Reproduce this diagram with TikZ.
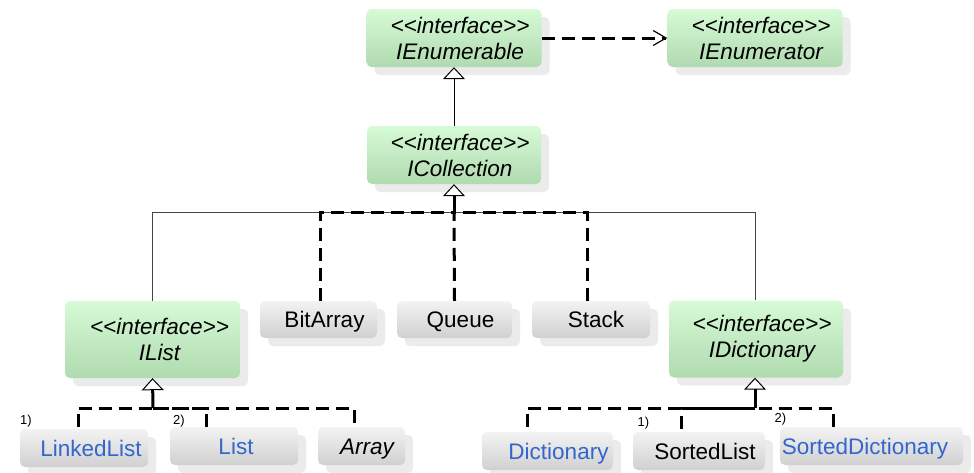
\documentclass[tikz,border=0pt]{standalone}
\usepackage{fontspec}
\setmainfont{Liberation Sans}
\usetikzlibrary{arrows.meta,shadows}
\definecolor{gtop}{HTML}{D6FBD6}
\definecolor{gbot}{HTML}{B0DAB0}
\definecolor{ytop}{HTML}{F3F3F3}
\definecolor{ybot}{HTML}{D0D0D0}
\definecolor{shad}{HTML}{EBEBEB}
\definecolor{cls}{HTML}{3366CC}
\definecolor{thinline}{HTML}{454545}
\begin{document}
\begin{tikzpicture}[x=1pt,y=-1pt,
  box/.style={rounded corners=5pt, inner sep=0pt, align=center,
    font=\fontsize{22.5}{26}\selectfont,
    general shadow={shadow xshift=8pt, shadow yshift=-8pt, fill=shad}},
  iface/.style={box, top color=gtop, bottom color=gbot, minimum width=175pt, font=\fontsize{22.5}{26}\selectfont\itshape},
  gbox/.style={box, top color=ytop, bottom color=ybot, minimum height=38pt, text height=17pt, text depth=1pt},
  num/.style={inner sep=0pt, font=\fontsize{13}{13}\selectfont},
  gen/.style={draw=thinline, line width=1pt},
  real/.style={draw=black, line width=3pt, dash pattern=on 13pt off 7pt},
  stem/.style={draw=black, line width=3pt},
  tri/.style={-{Triangle[length=12pt, width=22pt, line width=1pt, fill=white]}},
]
\useasboundingbox (0,0) rectangle (974,472);

% interfaces
\node[iface, minimum height=58pt] (ienum)  at (454,38)  {\hspace*{12pt}<{}<interface>{}>\\\hspace*{12pt}IEnumerable};
\node[iface, minimum height=58pt] (ienumr) at (755,38)  {\hspace*{12pt}<{}<interface>{}>\\\hspace*{12pt}IEnumerator};
\node[iface, minimum height=58pt, minimum width=174pt] (icoll) at (454,155) {\hspace*{12pt}<{}<interface>{}>\\\hspace*{12pt}ICollection};
\node[iface, minimum height=77pt] (ilist) at (152.5,339.5) {\hspace*{14pt}<{}<interface>{}>\\\hspace*{14pt}IList};
\node[iface, minimum height=77pt, minimum width=174pt] (idict) at (756,339) {\hspace*{12pt}<{}<interface>{}>\\\hspace*{12pt}IDictionary};

% classes
\node[gbox, minimum width=117pt, minimum height=37pt] (bitarray) at (318.5,319.5) {\hspace*{12pt}BitArray};
\node[gbox, minimum width=115pt, minimum height=37pt] (queue)    at (454.5,319.5) {\hspace*{12pt}Queue};
\node[gbox, minimum width=118pt, minimum height=37pt] (stack)    at (591,319.5)   {\hspace*{10pt}Stack};
\node[gbox, minimum width=128pt, text=cls] (linkedlist) at (84,448)    {\hspace*{14pt}LinkedList};
\node[gbox, minimum width=128pt, text=cls] (list)       at (234,446)   {\hspace*{4pt}List};
\node[gbox, minimum width=87pt] (array)                 at (361.5,446) {\hspace*{12pt}\textit{Array}};
\node[gbox, minimum width=131pt, text=cls] (dictionary) at (547.5,451) {\hspace*{22pt}Dictionary};
\node[gbox, minimum width=132pt] (sortedlist)           at (699,451)   {\hspace*{12pt}SortedList};
\node[gbox, minimum width=183pt, text=cls] (sorteddict) at (871.5,446) {SortedDictionary\hspace*{13pt}};

% footnote marks
\node[num] (m1a) at (26,421)    {1)};
\node[num] (m2a) at (179,421)   {2)};
\node[num] (m1b) at (643.5,423) {1)};
\node[num] (m2b) at (780.5,419) {2)};

% bus coordinates
\coordinate (busC) at (454,212);
\coordinate (busL) at (153,408);
\coordinate (busD) at (755,408);

% IEnumerable -> IEnumerator
\draw[real, -{Straight Barb[length=13pt, width=15pt, line width=1.2pt]}] (ienum.east) -- (ienumr.west);
% ICollection -> IEnumerable
\draw[gen, draw=black, tri] (icoll.north) -- (ienum.south);

% to ICollection
\draw[gen] (ilist.north) |- (busC);
\draw[gen] (idict.north -| busD) |- (busC);
\draw[real] ([xshift=1.5pt]bitarray.north) |- (busC);
\draw[real] ([xshift=-4pt]stack.north) |- (busC);
\draw[real] (queue.north) -- (busC);
\draw[stem, tri] (busC) -- (icoll.south);

% to IList
\draw[real] ([xshift=-6pt,yshift=2pt]linkedlist.north) |- (busL);
\draw[real] ([xshift=-28pt]list.north) |- (busL);
\draw[real] ([xshift=-7.5pt,yshift=4pt]array.north) |- (busL);
\draw[stem, tri] (busL) -- (ilist.south);

% to IDictionary
\draw[real] ([xshift=-20.5pt,yshift=5pt]dictionary.north) |- (busD);
\draw[real] ([xshift=-18pt,yshift=3pt]sortedlist.north) |- (busD);
\draw[real] ([xshift=-38.5pt]sorteddict.north) |- (busD);
\draw[stem, tri] (busD) -- (idict.south -| busD);
\end{tikzpicture}
\end{document}
